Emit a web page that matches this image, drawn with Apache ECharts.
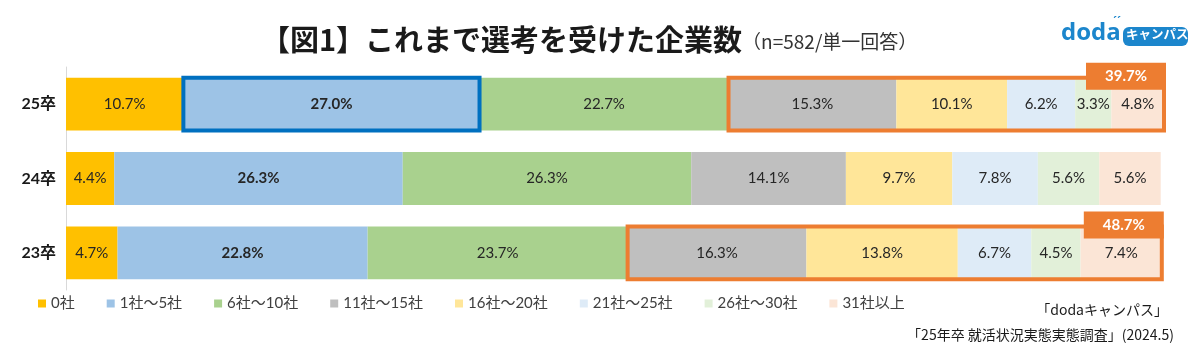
<!DOCTYPE html>
<html>
<head>
<meta charset="utf-8">
<script src="https://cdn.jsdelivr.net/npm/echarts@6/dist/echarts.min.js"></script>
<style>html,body{margin:0;padding:0;background:#fff}#c{width:1200px;height:361px}</style>
</head>
<body>
<div id="c"></div>
<script>
const categories = ['25卒', '24卒', '23卒'];
const seriesNames = ['0社', '1社〜5社', '6社〜10社', '11社〜15社', '16社〜20社', '21社〜25社', '26社〜30社', '31社以上'];
const v0 = [10.7, 4.4, 4.7];
const v1to5 = [27.0, 26.3, 22.8];
const v6to10 = [22.7, 26.3, 23.7];
const v11to15 = [15.3, 14.1, 16.3];
const v16to20 = [10.1, 9.7, 13.8];
const v21to25 = [6.2, 7.8, 6.7];
const v26to30 = [3.3, 5.6, 4.5];
const v31plus = [4.8, 5.6, 7.4];
const seriesValues = [v0, v1to5, v6to10, v11to15, v16to20, v21to25, v26to30, v31plus];
const seriesColors = ['#FFC000', '#9DC3E6', '#A9D18E', '#BFBFBF', '#FFE699', '#DEEBF7', '#E2F0D9', '#FBE5D6'];
// highlights: blue box around 1社〜5社 of 25卒; orange boxes around 11社以上 of 25卒 and 23卒
const blueRows = ['25卒'];
const blueSeries = [1, 1];
const orangeRows = ['25卒', '23卒'];
const orangeSeries = [3, 7];

const CJK = '"Noto Sans CJK JP", sans-serif';
const NUM = 'Lato, "Noto Sans CJK JP", sans-serif';

function sumRange(ci, a, b) {
  let s = 0;
  for (let k = a; k <= b; k++) s += seriesValues[k][ci];
  return s;
}
const highlightItems = [];
blueRows.forEach(r => {
  const ci = categories.indexOf(r);
  highlightItems.push({ cat: ci, start: sumRange(ci, 0, blueSeries[0] - 1), end: sumRange(ci, 0, blueSeries[1]), color: '#0070C0', label: null });
});
orangeRows.forEach(r => {
  const ci = categories.indexOf(r);
  const s = sumRange(ci, orangeSeries[0], orangeSeries[1]);
  highlightItems.push({ cat: ci, start: sumRange(ci, 0, orangeSeries[0] - 1), end: sumRange(ci, 0, orangeSeries[1]), color: '#ED7D31', label: s.toFixed(1) + '%' });
});
const total = Math.max(...categories.map((c, i) => sumRange(i, 0, 7)));

const chart = echarts.init(document.getElementById('c'));
const barSeries = seriesNames.map((name, si) => ({
  name, type: 'bar', stack: 'total', barWidth: '71%',
  data: seriesValues[si],
  itemStyle: { color: seriesColors[si] },
  label: {
    show: true, position: 'inside',
    formatter: p => p.value.toFixed(1) + '%',
    color: '#262626', fontSize: 15, fontFamily: NUM,
    fontWeight: si === 1 ? 'bold' : 'normal'
  },
  emphasis: { disabled: true }
}));

const hlSeries = {
  type: 'custom', z: 5, silent: true,
  data: highlightItems.map(h => [h.start, h.end, h.cat]),
  encode: { x: [0, 1], y: 2 },
  renderItem: (params, api) => {
    const it = highlightItems[params.dataIndex];
    const p0 = api.coord([it.start, it.cat]);
    const p1 = api.coord([it.end, it.cat]);
    const h = api.size([0, 1])[1] * 0.71;
    const top = p0[1] - h / 2;
    const children = [{
      type: 'rect',
      shape: { x: p0[0], y: top, width: p1[0] - p0[0], height: h },
      style: { fill: 'none', stroke: it.color, lineWidth: 4 }
    }];
    if (it.label) {
      const w = 80, lh = 27;
      const x = p1[0] + 2 - w, y = top - 15;
      children.push({ type: 'rect', shape: { x, y, width: w, height: lh }, style: { fill: it.color } });
      children.push({ type: 'text', style: { x: x + w / 2, y: y + lh / 2, text: it.label, fill: '#fff', font: 'bold 15px ' + NUM, align: 'center', verticalAlign: 'middle' } });
    }
    return { type: 'group', children };
  }
};

chart.setOption({
  animation: false,
  title: {
    text: '{a|【図1】これまで選考を受けた企業数}{b|（n=582/単一回答）}',
    left: 256, top: 20,
    textStyle: {
      rich: {
        a: { fontSize: 29, fontWeight: 'bold', fontFamily: CJK, color: '#1a1a1a' },
        b: { fontSize: 19, fontWeight: 'normal', fontFamily: CJK, color: '#333', padding: [5, 0, 0, 0] }
      }
    }
  },
  legend: {
    data: seriesNames, left: 38, top: 296, padding: 0,
    icon: 'rect', itemWidth: 8, itemHeight: 8, itemGap: 32,
    textStyle: { fontSize: 15, color: '#404040', fontFamily: NUM },
    selectedMode: false
  },
  grid: { left: 66, right: 36, top: 67, bottom: 71 },
  xAxis: { type: 'value', min: 0, max: total, show: false },
  yAxis: {
    type: 'category', data: categories, inverse: true,
    axisLine: { lineStyle: { color: '#D9D9D9' } },
    axisTick: { length: 5, lineStyle: { color: '#D9D9D9' } },
    axisLabel: { fontSize: 16, fontWeight: 'bold', color: '#1a1a1a', fontFamily: NUM, margin: 10 }
  },
  series: [...barSeries, hlSeries],
  graphic: [
    { type: 'rect', left: 1123, top: 27, shape: { width: 65, height: 19, r: 6 }, style: { fill: '#1C86CC' } },
    { type: 'text', left: 1126, top: 28, style: { text: 'キャンパス', fill: '#fff', font: 'bold 12.5px ' + CJK } },
    { type: 'text', left: 1061, top: 21, style: { text: 'doda', fill: '#1C86CC', font: 'bold 24px "Open Sans", sans-serif' } },
    { type: 'text', left: 1113, top: 17, style: { text: '\u02CA\u02CA', fill: '#1C86CC', font: 'bold 12px sans-serif' } },
    { type: 'text', right: 32, top: 303, style: { text: '「dodaキャンパス」', fill: '#1a1a1a', font: '14px ' + CJK, align: 'right' } },
    { type: 'text', right: 26, top: 328, style: { text: '「25年卒 就活状況実態実態調査」(2024.5)', fill: '#1a1a1a', font: '14px ' + CJK, align: 'right' } }
  ]
});
</script>
</body>
</html>
